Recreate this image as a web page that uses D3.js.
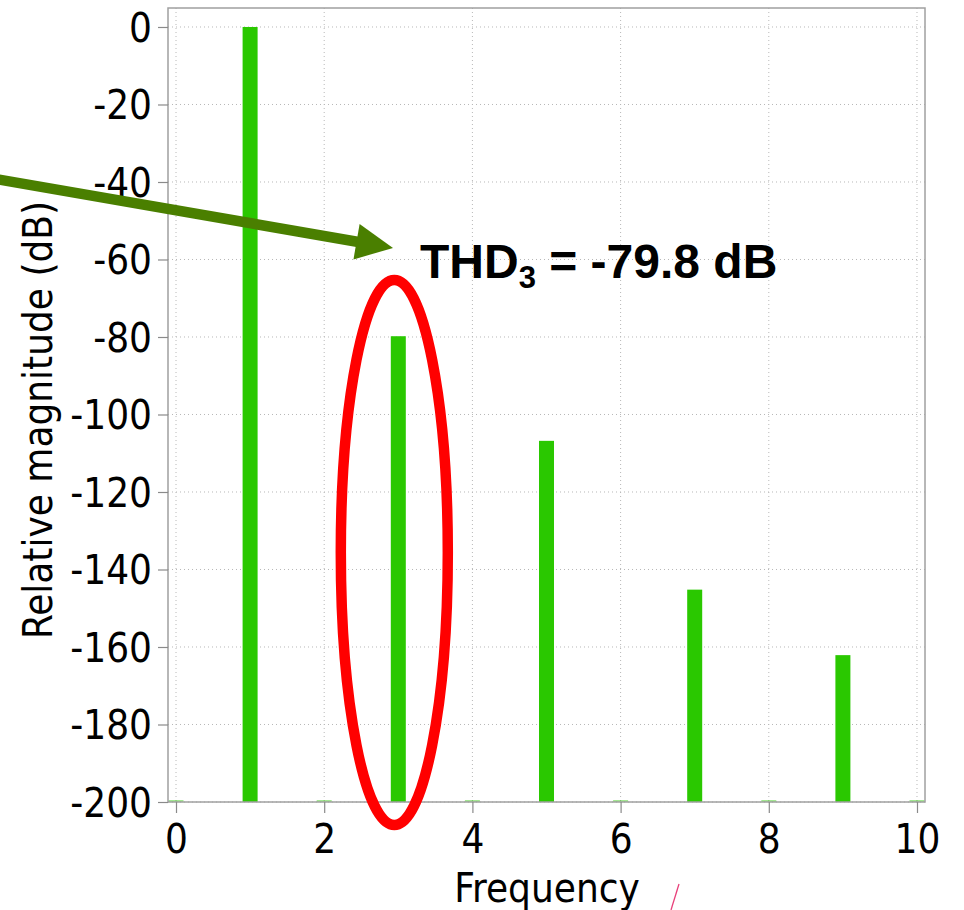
<!DOCTYPE html>
<html>
<head>
<meta charset="utf-8">
<script src="https://cdn.jsdelivr.net/npm/d3@7"></script>
<style>
  body { margin: 0; background: #fff; }
  svg { display: block; }
  .tick text { font-family: "DejaVu Sans Condensed", "DejaVu Sans", sans-serif; font-stretch: condensed; }
</style>
</head>
<body>
<div id="chart"></div>
<script>
// Odd harmonics (dB relative to fundamental)
var harmonics = [1, 3, 5, 7, 9];
var magnitudes = [0, -79.8, -106.8, -145.2, -162.1];
// Even harmonics sit at the floor
var evenHarmonics = [0, 2, 4, 6, 8, 10];
var evenMagnitudes = [-199.5, -199.5, -199.5, -199.5, -199.5, -199.5];
var xTicks = [0, 2, 4, 6, 8, 10];
var yTicks = [0, -20, -40, -60, -80, -100, -120, -140, -160, -180, -200];

var width = 964, height = 910;
var margin = { top: 8, right: 39, bottom: 108, left: 168 };
var plotW = width - margin.left - margin.right,
    plotH = height - margin.top - margin.bottom;

var svg = d3.select('#chart').append('svg')
  .attr('width', width)
  .attr('height', height);

var x = d3.scaleLinear().domain([-0.108, 10.108]).range([margin.left, margin.left + plotW]);
var y = d3.scaleLinear().domain([-200, 4.9]).range([margin.top + plotH, margin.top]);

var fontFam = '"DejaVu Sans Condensed", "DejaVu Sans", sans-serif';
// plain hyphen for negatives, like the original
var fmt = function (d) { return String(d); };

// Dotted grid
svg.append('g').selectAll('line.vg')
  .data(xTicks).enter().append('line')
  .attr('x1', function (d) { return x(d); }).attr('x2', function (d) { return x(d); })
  .attr('y1', margin.top).attr('y2', margin.top + plotH)
  .attr('stroke', '#b8b8b8').attr('stroke-width', 1).attr('stroke-dasharray', '1,3');

svg.append('g').selectAll('line.hg')
  .data(yTicks).enter().append('line')
  .attr('y1', function (d) { return y(d); }).attr('y2', function (d) { return y(d); })
  .attr('x1', margin.left).attr('x2', margin.left + plotW)
  .attr('stroke', '#b8b8b8').attr('stroke-width', 1).attr('stroke-dasharray', '1,3');

// Bars
var barW = 15;
svg.append('g').selectAll('rect.odd')
  .data(harmonics).enter().append('rect')
  .attr('x', function (d) { return x(d) - barW / 2; })
  .attr('y', function (d, i) { return y(magnitudes[i]); })
  .attr('width', barW)
  .attr('height', function (d, i) { return y(-200) - y(magnitudes[i]); })
  .attr('fill', '#2ac800');

svg.append('g').selectAll('rect.even')
  .data(evenHarmonics).enter().append('rect')
  .attr('x', function (d) { return x(d) - barW / 2; })
  .attr('y', function (d, i) { return y(evenMagnitudes[i]); })
  .attr('width', barW)
  .attr('height', function (d, i) { return y(-200) - y(evenMagnitudes[i]); })
  .attr('fill', '#2ac800').attr('opacity', 0.45);

// Frame
svg.append('rect')
  .attr('x', margin.left).attr('y', margin.top)
  .attr('width', plotW).attr('height', plotH)
  .attr('fill', 'none').attr('stroke', '#a0a0a0').attr('stroke-width', 1.5);

// Axes
var yAxis = svg.append('g')
  .attr('transform', 'translate(' + margin.left + ',0)')
  .call(d3.axisLeft(y).tickValues(yTicks).tickFormat(fmt).tickSize(10).tickPadding(6));
var xAxis = svg.append('g')
  .attr('transform', 'translate(0,' + (margin.top + plotH) + ')')
  .call(d3.axisBottom(x).tickValues(xTicks).tickFormat(fmt).tickSize(11).tickPadding(12));

[yAxis, xAxis].forEach(function (ax) {
  ax.select('.domain').remove();
  ax.selectAll('.tick line').attr('stroke', '#8a8a8a').attr('stroke-width', 1.2);
  ax.selectAll('.tick text').attr('font-size', 40).attr('fill', '#000');
});
yAxis.selectAll('.tick text').attr('dy', '0.36em');

// Axis titles
svg.append('text')
  .attr('x', 547).attr('y', 902)
  .attr('text-anchor', 'middle')
  .attr('font-family', fontFam).attr('font-stretch', 'condensed')
  .attr('font-size', 40)
  .text('Frequency');

svg.append('text')
  .attr('transform', 'translate(52,420) rotate(-90)')
  .attr('text-anchor', 'middle')
  .attr('font-family', fontFam).attr('font-stretch', 'condensed')
  .attr('font-size', 40)
  .text('Relative magnitude (dB)');

// Green arrow
var arrowColor = '#4a7f00';
var p0 = [-10, 178], tip = [393, 248];
var ang = Math.atan2(tip[1] - p0[1], tip[0] - p0[0]);
var headLen = 37, headHalf = 18;
var base = [tip[0] - headLen * Math.cos(ang), tip[1] - headLen * Math.sin(ang)];
svg.append('line')
  .attr('x1', p0[0]).attr('y1', p0[1])
  .attr('x2', base[0] + 2 * Math.cos(ang)).attr('y2', base[1] + 2 * Math.sin(ang))
  .attr('stroke', arrowColor).attr('stroke-width', 10.5);
svg.append('path')
  .attr('d', 'M' + tip[0] + ',' + tip[1] +
    'L' + (base[0] - headHalf * Math.sin(ang)) + ',' + (base[1] + headHalf * Math.cos(ang)) +
    'L' + (base[0] + headHalf * Math.sin(ang)) + ',' + (base[1] - headHalf * Math.cos(ang)) + 'Z')
  .attr('fill', arrowColor);

// Red ellipse round the 3rd harmonic
svg.append('ellipse')
  .attr('cx', x(3) - 4).attr('cy', 552.5)
  .attr('rx', 53.5).attr('ry', 272.5)
  .attr('fill', 'none').attr('stroke', '#ff0000').attr('stroke-width', 10.5);

// Annotation text
var note = svg.append('text')
  .attr('x', 420).attr('y', 278)
  .attr('font-family', '"Liberation Sans", Arial, sans-serif')
  .attr('font-weight', 'bold').attr('font-size', 48)
  .attr('fill', '#000');
note.append('tspan').text('THD');
note.append('tspan').attr('dy', 10).attr('font-size', 31).text('3');
note.append('tspan').attr('dy', -10).text(' = -79.8 dB');

// Stray pink stroke
svg.append('line')
  .attr('x1', 679).attr('y1', 884).attr('x2', 671).attr('y2', 910)
  .attr('stroke', '#e8407a').attr('stroke-width', 1.3);
</script>
</body>
</html>
